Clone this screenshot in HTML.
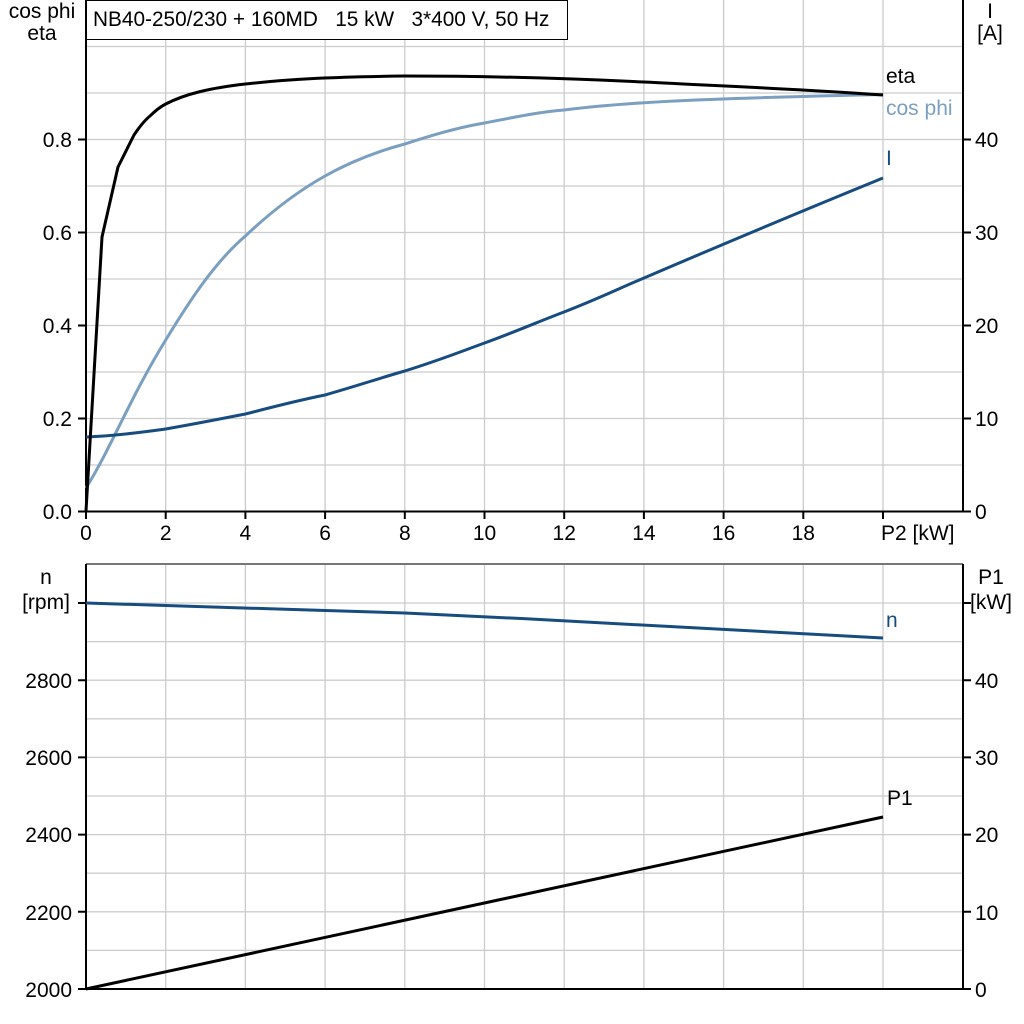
<!DOCTYPE html>
<html><head><meta charset="utf-8"><style>
html,body{margin:0;padding:0;background:#fff;}
svg{display:block;font-family:"Liberation Sans",sans-serif;}
</style></head><body>
<svg width="1024" height="1024" viewBox="0 0 1024 1024" xmlns="http://www.w3.org/2000/svg">
<rect width="1024" height="1024" fill="#fff"/>
<g stroke="#cccccc" stroke-width="1.3" fill="none">
<path d="M86 46.5H963 M86 93H963 M86 139.5H963 M86 186H963 M86 232.5H963 M86 279H963 M86 325.5H963 M86 372H963 M86 418.5H963 M86 465H963"/>
<path d="M165.7 0V511 M245.4 0V511 M325.1 0V511 M404.8 0V511 M484.5 0V511 M564.2 0V511 M643.9 0V511 M723.6 0V511 M803.3 0V511 M883 0V511"/>
<path d="M86 603H963 M86 641.6H963 M86 680.2H963 M86 718.8H963 M86 757.4H963 M86 796H963 M86 834.6H963 M86 873.2H963 M86 911.8H963 M86 950.4H963"/>
<path d="M165.7 564V989 M245.4 564V989 M325.1 564V989 M404.8 564V989 M484.5 564V989 M564.2 564V989 M643.9 564V989 M723.6 564V989 M803.3 564V989 M883 564V989"/>
</g>
<rect x="85.5" y="0.5" width="482" height="39" fill="#fff" stroke="#000" stroke-width="1"/>
<text x="93" y="26" font-size="20.8" style="white-space:pre" xml:space="preserve">NB40-250/230 + 160MD   15 kW   3*400 V, 50 Hz</text>
<g stroke="#000" stroke-width="2" fill="none">
<path d="M86 0V512 M85 511.5H963 M963 0V512"/>
<path d="M78 511.5H86 M78 418.5H86 M78 325.5H86 M78 232.5H86 M78 139.5H86"/>
<path d="M963 511.5H971 M963 418.5H971 M963 325.5H971 M963 232.5H971 M963 139.5H971"/>
<path d="M86 511V519 M165.7 511V519 M245.4 511V519 M325.1 511V519 M404.8 511V519 M484.5 511V519 M564.2 511V519 M643.9 511V519 M723.6 511V519 M803.3 511V519 M883 511V519"/>
</g>
<line x1="86" y1="564" x2="963" y2="564" stroke="#777" stroke-width="2"/>
<g stroke="#000" stroke-width="2" fill="none">
<path d="M86 564V990 M85 989H963 M963 564V990"/>
<path d="M78 989H86 M78 911.8H86 M78 834.6H86 M78 757.4H86 M78 680.2H86 M78 603H86"/>
<path d="M963 989H971 M963 911.8H971 M963 834.6H971 M963 757.4H971 M963 680.2H971 M963 603H971"/>
</g>
<g font-size="21" fill="#000">
<text x="42" y="18" text-anchor="middle">cos phi</text>
<text x="42" y="40" text-anchor="middle">eta</text>
<text x="990" y="18" text-anchor="middle">I</text>
<text x="990" y="40" text-anchor="middle">[A]</text>
<g text-anchor="end">
<text x="72" y="519">0.0</text><text x="72" y="426">0.2</text><text x="72" y="333">0.4</text><text x="72" y="240">0.6</text><text x="72" y="147">0.8</text>
<text x="72" y="997">2000</text><text x="72" y="920">2200</text><text x="72" y="842">2400</text><text x="72" y="765">2600</text><text x="72" y="688">2800</text>
</g>
<g text-anchor="start">
<text x="975" y="519">0</text><text x="975" y="426">10</text><text x="975" y="333">20</text><text x="975" y="240">30</text><text x="975" y="147">40</text>
<text x="975" y="997">0</text><text x="975" y="920">10</text><text x="975" y="842">20</text><text x="975" y="765">30</text><text x="975" y="688">40</text>
</g>
<g text-anchor="middle">
<text x="86" y="540">0</text><text x="165.7" y="540">2</text><text x="245.4" y="540">4</text><text x="325.1" y="540">6</text><text x="404.8" y="540">8</text><text x="484.5" y="540">10</text><text x="564.2" y="540">12</text><text x="643.9" y="540">14</text><text x="723.6" y="540">16</text><text x="803.3" y="540">18</text>
</g>
<text x="881" y="540">P2 [kW]</text>
<text x="46" y="584" text-anchor="middle">n</text>
<text x="46" y="609" text-anchor="middle">[rpm]</text>
<text x="991" y="584" text-anchor="middle">P1</text>
<text x="991" y="609" text-anchor="middle">[kW]</text>
<text x="886" y="83">eta</text>
<text x="886" y="115" fill="#7a9fc0">cos phi</text>
<text x="886" y="165" fill="#174c80">I</text>
<text x="886" y="627" fill="#174c80">n</text>
<text x="887" y="805">P1</text>
</g>
<g fill="none" stroke-width="3" stroke-linejoin="round">
<path stroke="#7a9fc0" d="M86,488 C110,450 130,398 165.7,340 C190,300 215,262 245.4,236 C275,208 300,190 325,176 C350,162 375,152 404.8,144 C430,136 455,128 484.5,123 C520,116 540,112 564,110 C620,103 680,99 883,94.5"/>
<path stroke="#174c80" d="M86,437 C110,436 130,434 165.7,429 C200,423 225,418 245.4,414 C280,405 300,400 325,395 C360,385 380,378 404.8,371 C440,360 460,352 484.5,343 C520,330 540,321 564,312 C600,298 620,288 644,278 C700,254 780,220 883,178"/>
<path stroke="#000" d="M86,511 L102,237 L118,167 L134,135 C140,126 145,120 150,116 C156,110 160,107 165.7,104 C185,94 210,88 245.4,84 C290,79 330,77 404.8,76 C480,76 560,78 644,82 C720,86 800,89 883,95"/>
<path stroke="#174c80" d="M86,603 C200,606 300,610 404.8,613 C560,620 700,628 883,638"/>
<path stroke="#000" d="M86,989 L883,817"/>
</g>
</svg>
</body></html>
